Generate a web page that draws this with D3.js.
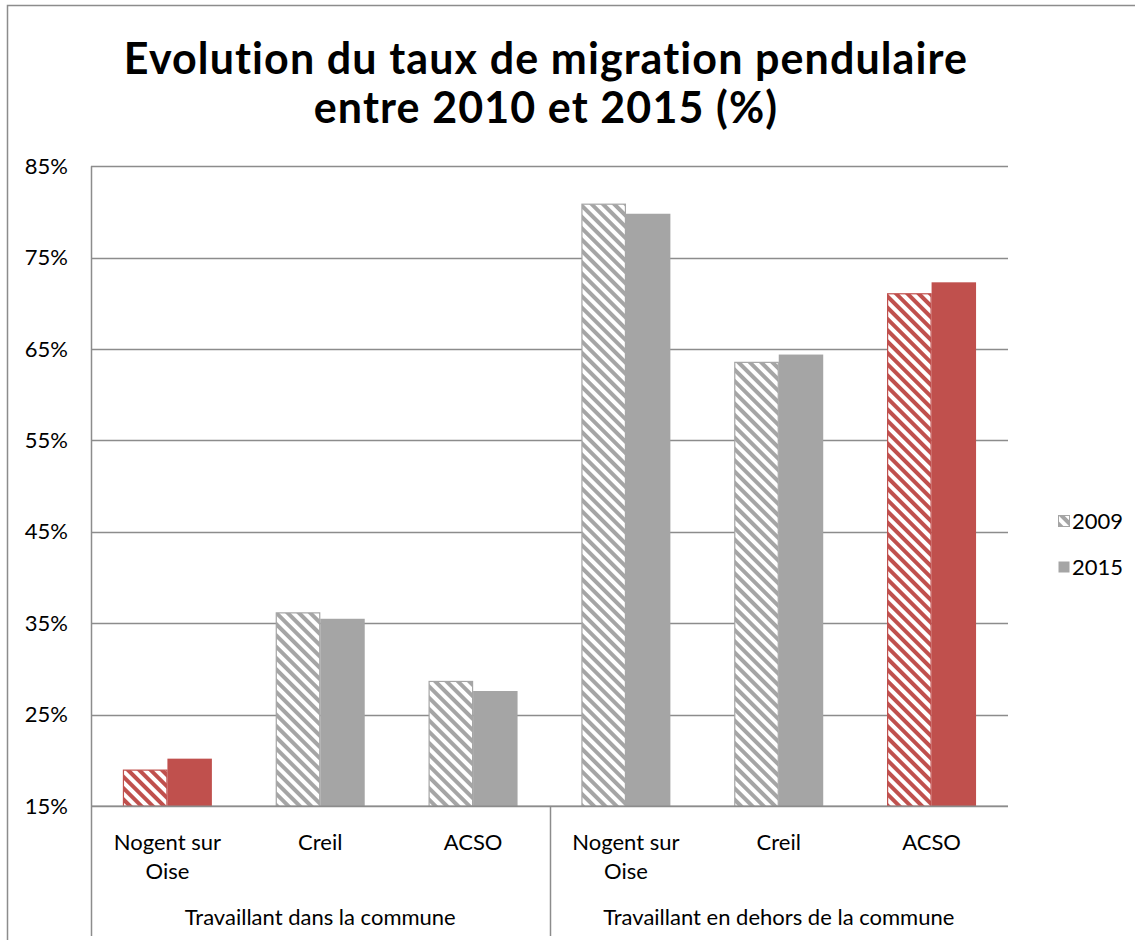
<!DOCTYPE html>
<html><head><meta charset="utf-8">
<script src="https://cdn.jsdelivr.net/npm/d3@7"></script>
<style>body{margin:0;background:#fff}svg{display:block}text{font-family:Lato,"Open Sans",sans-serif;fill:#000}</style>
</head><body>
<script>
const titleLines = ["Evolution du taux de migration pendulaire", "entre 2010 et 2015 (%)"];
const groups = ["Travaillant dans la commune", "Travaillant en dehors de la commune"];
const categories = ["Nogent sur Oise", "Creil", "ACSO", "Nogent sur Oise", "Creil", "ACSO"];
const categoryGroup = [0, 0, 0, 1, 1, 1];
const categoryLines = [["Nogent sur", "Oise"], ["Creil"], ["ACSO"], ["Nogent sur", "Oise"], ["Creil"], ["ACSO"]];
const series = ["2009", "2015"];
const values2009 = [19.0, 36.2, 28.7, 80.9, 63.6, 71.1];
const values2015 = [20.2, 35.5, 27.6, 79.8, 64.4, 72.3];
const highlight = [true, false, false, false, false, true];
const yTicks = [15, 25, 35, 45, 55, 65, 75, 85];

const W = 1135, H = 940;
const gray = "#a5a5a5", red = "#c0504d";
const svg = d3.select("body").append("svg").attr("width", W).attr("height", H);
const defs = svg.append("defs");
[["hatchGray", gray], ["hatchRed", red]].forEach(([id, c]) => {
  const p = defs.append("pattern").attr("id", id).attr("patternUnits", "userSpaceOnUse")
    .attr("width", 8).attr("height", 8).attr("patternTransform", "rotate(-45)");
  p.append("rect").attr("width", 8).attr("height", 8).attr("fill", "#fff");
  p.append("rect").attr("x", 0).attr("width", 4).attr("height", 8).attr("fill", c);
});

// outer frame
svg.append("rect").attr("x", 7.5).attr("y", 5.5).attr("width", 1140).attr("height", 1000)
  .attr("fill", "none").attr("stroke", "#8c8c8c").attr("stroke-width", 1.5);

const L = 91, R = 1008, T = 166.2, B = 806.2;
const x = d3.scaleBand().domain(d3.range(categories.length)).range([L, R]).paddingInner(0.418).paddingOuter(0.209);
const xs = d3.scaleBand().domain(series).range([0, x.bandwidth()]);
const y = d3.scaleLinear().domain([15, 85]).range([B, T]);

// gridlines
svg.append("g").selectAll("line").data(yTicks).join("line")
  .attr("x1", L).attr("x2", R).attr("y1", d => Math.round(y(d)) + 0.5).attr("y2", d => Math.round(y(d)) + 0.5)
  .attr("stroke", "#8c8c8c").attr("stroke-width", 1.3);

// y axis
const yAxis = d3.axisLeft(y).tickValues(yTicks).tickFormat(d => d + "%").tickSize(0).tickPadding(23);
const ga = svg.append("g").attr("transform", `translate(${L},0)`).call(yAxis);
ga.select(".domain").remove();
ga.selectAll("text").style("font-size", "22px").attr("font-family", "Lato");
svg.append("line").attr("x1", L + 0.5).attr("x2", L + 0.5).attr("y1", T).attr("y2", 936).attr("stroke", "#8c8c8c").attr("stroke-width", 1.5);

// bars
const data = [];
categories.forEach((c, i) => {
  data.push({i, s: "2009", v: values2009[i]});
  data.push({i, s: "2015", v: values2015[i]});
});
svg.append("g").selectAll("rect").data(data).join("rect")
  .attr("x", d => x(d.i) + xs(d.s) + (d.s === "2009" ? 0.5 : 0))
  .attr("width", d => xs.bandwidth() - (d.s === "2009" ? 1 : 0))
  .attr("y", d => y(d.v) + (d.s === "2009" ? 0.5 : 0))
  .attr("height", d => y(15) - y(d.v) - (d.s === "2009" ? 0.5 : 0))
  .attr("fill", d => d.s === "2009" ? (highlight[d.i] ? "url(#hatchRed)" : "url(#hatchGray)") : (highlight[d.i] ? red : gray))
  .attr("stroke", d => d.s === "2009" ? (highlight[d.i] ? red : gray) : "none")
  .attr("stroke-width", 1.2);

// x axis baseline
svg.append("line").attr("x1", L).attr("x2", R).attr("y1", B).attr("y2", B).attr("stroke", "#8c8c8c").attr("stroke-width", 1.5);
// group separator
const mid = x(3) - x.step() * x.paddingInner() / 2;
svg.append("line").attr("x1", Math.round(mid) + 0.5).attr("x2", Math.round(mid) + 0.5).attr("y1", B).attr("y2", 936).attr("stroke", "#8c8c8c").attr("stroke-width", 1.5);

// category labels
const cl = svg.append("g");
categoryLines.forEach((lines, i) => {
  const t = cl.append("text").attr("text-anchor", "middle").style("font-size", "22px")
    .attr("x", x(i) + x.bandwidth() / 2).attr("y", 850);
  lines.forEach((ln, k) => t.append("tspan").attr("x", x(i) + x.bandwidth() / 2).attr("dy", k ? 29 : 0).text(ln));
});
// group labels
groups.forEach((g, gi) => {
  const x0 = gi === 0 ? L : mid, x1 = gi === 0 ? mid : R;
  svg.append("text").attr("text-anchor", "middle").style("font-size", "22px")
    .attr("x", (x0 + x1) / 2).attr("y", 925).text(g);
});

// title
titleLines.forEach((t, k) => {
  svg.append("text").attr("text-anchor", "middle").attr("x", 546).attr("y", 74 + k * 49)
    .style("font-size", "43px").style("font-weight", "bold").style("letter-spacing", "1.1px").text(t);
});

// legend
const lg = svg.append("g");
series.forEach((s, k) => {
  const yy = 521 + k * 46;
  lg.append("rect").attr("x", 1058.5).attr("y", yy - 5.5).attr("width", 11).attr("height", 11)
    .attr("fill", k === 0 ? "url(#hatchGray)" : gray).attr("stroke", k === 0 ? gray : "none");
  lg.append("text").attr("x", 1072).attr("y", yy + 8).style("font-size", "22px").text(s);
});
</script>
</body></html>
